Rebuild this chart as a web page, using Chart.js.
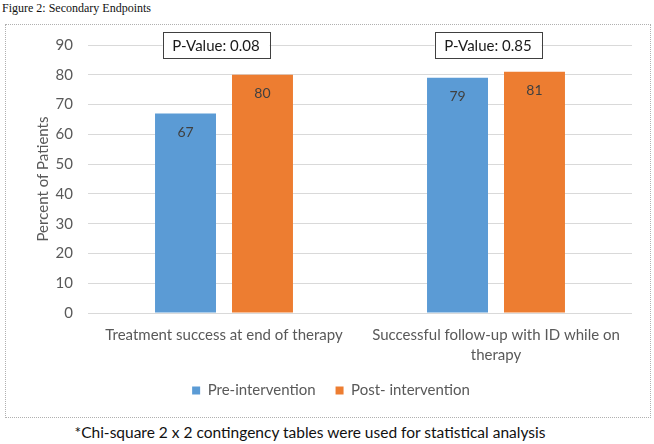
<!DOCTYPE html>
<html lang="en">
<head>
    <meta charset="UTF-8">
    <title>Figure 2: Secondary Endpoints</title>
    <script src="https://cdn.jsdelivr.net/npm/chart.js@4/dist/chart.umd.min.js"></script>
    <style>
        body { margin: 0; background: #fff; width: 654px; height: 444px; position: relative; overflow: hidden; }
        #titulo { position: absolute; left: 2px; top: 1px; font: 12px "Liberation Serif", serif; color: #111; }
        #caja { position: absolute; left: 5px; top: 24px; width: 644px; height: 392px; border: 1px dotted #b0b0b0; }
        #nota { position: absolute; left: 0; width: 620px; top: 423px; text-align: center; font: 15.5px Lato, sans-serif; color: #111; }
    </style>
</head>
<body>
    <div id="titulo">Figure 2: Secondary Endpoints</div>
    <div id="caja"><canvas id="myChart" width="644" height="392"></canvas></div>
    <div id="nota">*Chi-square 2 x 2 contingency tables were used for statistical analysis</div>

    <script>
        // datos
        const categorias = [
            ['Treatment success at end of therapy'],
            ['Successful follow-up with ID while on', 'therapy']
        ];
        const preIntervencion = [67, 79];
        const postIntervencion = [80, 81];
        const pValores = ['P-Value: 0.08', 'P-Value: 0.85'];
        const ticksY = [0, 10, 20, 30, 40, 50, 60, 70, 80, 90];

        const fuente = 'Lato, "Open Sans", sans-serif';

        // etiquetas dentro de las barras
        const etiquetas = {
            id: 'etiquetas',
            afterDatasetsDraw(chart) {
                const ctx = chart.ctx;
                ctx.save();
                ctx.font = '14px ' + fuente;
                ctx.fillStyle = '#404040';
                ctx.textAlign = 'center';
                ctx.textBaseline = 'middle';
                chart.data.datasets.forEach((ds, i) => {
                    chart.getDatasetMeta(i).data.forEach((bar, j) => {
                        ctx.fillText(ds.data[j], bar.x, bar.y + 19);
                    });
                });
                ctx.restore();
            }
        };

        // cajas de P-Value
        const cajasP = {
            id: 'cajasP',
            afterDatasetsDraw(chart) {
                const ctx = chart.ctx;
                const x = chart.scales.x, y = chart.scales.y;
                ctx.save();
                ctx.font = '15px ' + fuente;
                ctx.textAlign = 'center';
                ctx.textBaseline = 'middle';
                pValores.forEach((txt, i) => {
                    const cx = x.getPixelForValue(i) - 8;
                    const cy = y.getPixelForValue(90);
                    const w = 107, h = 26;
                    ctx.fillStyle = '#fff';
                    ctx.fillRect(cx - w / 2, cy - h / 2, w, h);
                    ctx.strokeStyle = '#404040';
                    ctx.lineWidth = 1;
                    ctx.strokeRect(Math.round(cx - w / 2) + 0.5, Math.round(cy - h / 2) + 0.5, w, h);
                    ctx.fillStyle = '#1a1a1a';
                    ctx.fillText(txt, cx, cy + 1);
                });
                ctx.restore();
            }
        };

        new Chart(document.getElementById('myChart'), {
            type: 'bar',
            data: {
                labels: categorias,
                datasets: [{
                    label: 'Pre-intervention',
                    data: preIntervencion,
                    backgroundColor: '#5B9BD5',
                    categoryPercentage: 0.566,
                    barPercentage: 0.792
                }, {
                    label: 'Post- intervention',
                    data: postIntervencion,
                    backgroundColor: '#ED7D31',
                    categoryPercentage: 0.566,
                    barPercentage: 0.792
                }]
            },
            options: {
                responsive: false,
                animation: false,
                layout: { padding: { left: 24, right: 18, top: 20, bottom: 9 } },
                plugins: {
                    tooltip: { enabled: false },
                    legend: {
                        position: 'bottom',
                        labels: {
                            boxWidth: 8, boxHeight: 8, padding: 20,
                            color: '#595959',
                            font: { family: fuente, size: 15 }
                        }
                    }
                },
                scales: {
                    x: {
                        grid: { display: false, drawTicks: false },
                        border: { display: false },
                        ticks: {
                            color: '#595959', padding: 12, maxRotation: 0, autoSkip: false,
                            font: { family: fuente, size: 15, lineHeight: 1.35 }
                        },
                        afterFit(s) { s.height = 50; }
                    },
                    y: {
                        min: 0, max: 90,
                        afterBuildTicks(s) { s.ticks = ticksY.map(v => ({ value: v })); },
                        grid: { color: '#d9d9d9', drawTicks: false },
                        border: { display: false },
                        ticks: {
                            color: '#595959', padding: 15,
                            font: { family: fuente, size: 15 }
                        },
                        title: {
                            display: true, text: 'Percent of Patients',
                            color: '#595959', padding: { top: 4, bottom: 0 },
                            font: { family: fuente, size: 15 }
                        },
                        afterFit(s) { s.width = 58; s.paddingTop = 0; s.paddingBottom = 0; }
                    }
                }
            },
            plugins: [etiquetas, cajasP]
        });
    </script>
</body>
</html>
